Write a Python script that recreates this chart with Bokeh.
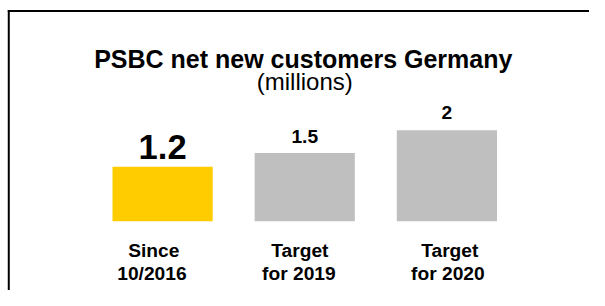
from bokeh.plotting import figure
from bokeh.models import ColumnDataSource, Range1d
from bokeh.core.properties import value
from bokeh.embed import file_html
from bokeh.resources import INLINE

# ---- data ----
categories = ["Since\n10/2016", "Target\nfor 2019", "Target\nfor 2020"]
values = [1.2, 1.5, 2]
value_labels = ["1.2", "1.5", "2"]
title_text = "PSBC net new customers Germany"
subtitle_text = "(millions)"

# ---- layout / styles (reference is 605x306, drawn into 589x290) ----
W, H = 589, 290
SX, SY = W / 605.0, H / 306.0
FS = (SX + SY) / 2.0

bar_colors = ["#FFCC00", "#BFBFBF", "#BFBFBF"]
value_sizes = ["%.1fpx" % (36 * FS), "%.1fpx" % (20 * FS), "%.1fpx" % (20 * FS)]
value_yoff = [-21 * SY, -18 * SY, -19 * SY]
cat_xoff1 = [-9 * SX, -5 * SX, 3 * SX]
cat_xoff2 = [-11 * SX, -6 * SX, 1 * SX]
FONT = value("Liberation Sans")

PX_PER_CAT = 146.0
PX_PER_UNIT = 48.0
BASE_REF_Y = 233.0
X0_REF = 166.5


def xd(px):
    return (px - X0_REF) / PX_PER_CAT


def yd(py):
    return (BASE_REF_Y - py) / PX_PER_UNIT


p = figure(width=W, height=H, output_backend="svg", toolbar_location=None,
           x_range=Range1d(xd(0), xd(605)), y_range=Range1d(yd(306), yd(0)),
           min_border=0)
p.axis.visible = False
p.grid.visible = False
p.outline_line_color = None
p.background_fill_color = "white"
p.border_fill_color = "white"

idx = list(range(len(categories)))

p.vbar(x=idx, top=values, bottom=0, width=0.705, fill_color=bar_colors, line_color=None)

vsrc = ColumnDataSource(dict(x=idx, y=values, text=value_labels, size=value_sizes, yoff=value_yoff))
p.text(x="x", y="y", text="text", source=vsrc, text_font_size="size", y_offset="yoff",
       text_align="center", text_baseline="alphabetic", text_font=FONT,
       text_font_style="bold", text_color="black")

line1 = [c.split("\n")[0] for c in categories]
line2 = [c.split("\n")[1] for c in categories]
c1 = ColumnDataSource(dict(x=idx, y=[yd(263.3)] * len(idx), text=line1, xo=cat_xoff1))
c2 = ColumnDataSource(dict(x=idx, y=[yd(288.3)] * len(idx), text=line2, xo=cat_xoff2))
for src in (c1, c2):
    p.text(x="x", y="y", text="text", source=src, x_offset="xo",
           text_font_size="%.1fpx" % (20 * FS),
           text_align="center", text_baseline="alphabetic", text_font=FONT,
           text_font_style="bold", text_color="black")

p.text(x=[xd(311)], y=[yd(61.5)], text=[title_text], text_font_size="%.1fpx" % (26 * FS),
       text_align="center", text_baseline="alphabetic", text_font=FONT,
       text_font_style="bold", text_color="black")
p.text(x=[xd(312.5)], y=[yd(85)], text=[subtitle_text], text_font_size="%.1fpx" % (25 * FS),
       text_align="center", text_baseline="alphabetic", text_font=FONT,
       text_color="black")

# frame border (cropped box: only top and left edges visible)
p.line(x=[xd(8.5), xd(8.5)], y=[yd(10), yd(330)], line_color="black", line_width=2)
p.line(x=[xd(7.5), xd(640)], y=[yd(11), yd(11)], line_color="black", line_width=2)

open("out.html", "w").write(file_html(p, INLINE))
